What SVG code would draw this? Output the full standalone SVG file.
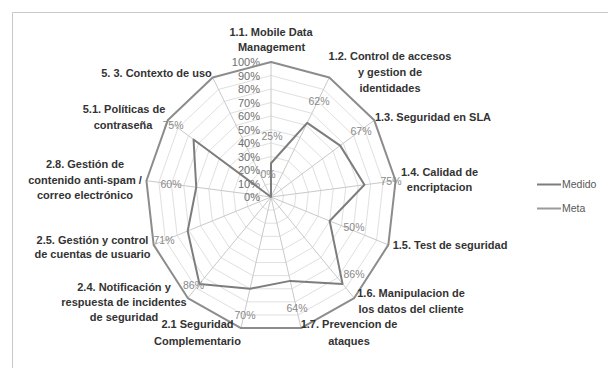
<svg xmlns="http://www.w3.org/2000/svg" width="608" height="374" viewBox="0 0 608 374">
<style>
.bg{fill:#ffffff}
.frame{fill:none;stroke:#c8c8c8;stroke-width:1}
.ring{fill:none;stroke:#e0e0e0;stroke-width:1}
.spoke{fill:none;stroke:#c9c9c9;stroke-width:1}
.medido{fill:none;stroke:#7d7d7d;stroke-width:2;stroke-linejoin:round}
.meta{fill:none;stroke:#8c8c8c;stroke-width:2;stroke-linejoin:round}
.cat{font-family:"Liberation Sans",Arial,sans-serif;font-size:11px;font-weight:bold;fill:#333333;text-anchor:middle}
.ax{font-family:"Liberation Sans",Arial,sans-serif;font-size:11px;fill:#6e6e6e;text-anchor:end}
.dl{font-family:"Liberation Sans",Arial,sans-serif;font-size:10.5px;fill:#8a8a8a;text-anchor:middle}
.lg{font-family:"Liberation Sans",Arial,sans-serif;font-size:10.5px;fill:#595959}
</style>
<rect class="bg" x="0" y="0" width="608" height="374"/>
<path class="frame" d="M12.5,368 V12.5 H608"/>

<g id="grid">
<g transform="translate(271 197)">
<polygon class="ring" vector-effect="non-scaling-stroke" transform="scale(12.55 13.5)" points="0,-1 0.46472,-0.88546 0.82298,-0.56806 0.99271,-0.12054 0.93502,0.35460 0.66312,0.74851 0.23932,0.97094 -0.23932,0.97094 -0.66312,0.74851 -0.93502,0.35460 -0.99271,-0.12054 -0.82298,-0.56806 -0.46472,-0.88546"/>
<polygon class="ring" vector-effect="non-scaling-stroke" transform="scale(25.1 27)" points="0,-1 0.46472,-0.88546 0.82298,-0.56806 0.99271,-0.12054 0.93502,0.35460 0.66312,0.74851 0.23932,0.97094 -0.23932,0.97094 -0.66312,0.74851 -0.93502,0.35460 -0.99271,-0.12054 -0.82298,-0.56806 -0.46472,-0.88546"/>
<polygon class="ring" vector-effect="non-scaling-stroke" transform="scale(37.65 40.5)" points="0,-1 0.46472,-0.88546 0.82298,-0.56806 0.99271,-0.12054 0.93502,0.35460 0.66312,0.74851 0.23932,0.97094 -0.23932,0.97094 -0.66312,0.74851 -0.93502,0.35460 -0.99271,-0.12054 -0.82298,-0.56806 -0.46472,-0.88546"/>
<polygon class="ring" vector-effect="non-scaling-stroke" transform="scale(50.2 54)" points="0,-1 0.46472,-0.88546 0.82298,-0.56806 0.99271,-0.12054 0.93502,0.35460 0.66312,0.74851 0.23932,0.97094 -0.23932,0.97094 -0.66312,0.74851 -0.93502,0.35460 -0.99271,-0.12054 -0.82298,-0.56806 -0.46472,-0.88546"/>
<polygon class="ring" vector-effect="non-scaling-stroke" transform="scale(62.75 67.5)" points="0,-1 0.46472,-0.88546 0.82298,-0.56806 0.99271,-0.12054 0.93502,0.35460 0.66312,0.74851 0.23932,0.97094 -0.23932,0.97094 -0.66312,0.74851 -0.93502,0.35460 -0.99271,-0.12054 -0.82298,-0.56806 -0.46472,-0.88546"/>
<polygon class="ring" vector-effect="non-scaling-stroke" transform="scale(75.3 81)" points="0,-1 0.46472,-0.88546 0.82298,-0.56806 0.99271,-0.12054 0.93502,0.35460 0.66312,0.74851 0.23932,0.97094 -0.23932,0.97094 -0.66312,0.74851 -0.93502,0.35460 -0.99271,-0.12054 -0.82298,-0.56806 -0.46472,-0.88546"/>
<polygon class="ring" vector-effect="non-scaling-stroke" transform="scale(87.85 94.5)" points="0,-1 0.46472,-0.88546 0.82298,-0.56806 0.99271,-0.12054 0.93502,0.35460 0.66312,0.74851 0.23932,0.97094 -0.23932,0.97094 -0.66312,0.74851 -0.93502,0.35460 -0.99271,-0.12054 -0.82298,-0.56806 -0.46472,-0.88546"/>
<polygon class="ring" vector-effect="non-scaling-stroke" transform="scale(100.4 108)" points="0,-1 0.46472,-0.88546 0.82298,-0.56806 0.99271,-0.12054 0.93502,0.35460 0.66312,0.74851 0.23932,0.97094 -0.23932,0.97094 -0.66312,0.74851 -0.93502,0.35460 -0.99271,-0.12054 -0.82298,-0.56806 -0.46472,-0.88546"/>
<polygon class="ring" vector-effect="non-scaling-stroke" transform="scale(112.95 121.5)" points="0,-1 0.46472,-0.88546 0.82298,-0.56806 0.99271,-0.12054 0.93502,0.35460 0.66312,0.74851 0.23932,0.97094 -0.23932,0.97094 -0.66312,0.74851 -0.93502,0.35460 -0.99271,-0.12054 -0.82298,-0.56806 -0.46472,-0.88546"/>
</g>
<path class="spoke" d="M271,197 L271,62 M271,197 L329.32,77.46 M271,197 L374.28,120.31 M271,197 L395.58,180.73 M271,197 L388.34,244.87 M271,197 L354.22,298.05 M271,197 L301.03,328.08 M271,197 L240.97,328.08 M271,197 L187.78,298.05 M271,197 L153.66,244.87 M271,197 L146.42,180.73 M271,197 L167.72,120.31 M271,197 L212.68,77.46"/>
</g>

<g id="axis-labels">
<text class="ax" x="260" y="201">0%</text>
<text class="ax" x="260" y="187.5">10%</text>
<text class="ax" x="260" y="174">20%</text>
<text class="ax" x="260" y="160.5">30%</text>
<text class="ax" x="260" y="147">40%</text>
<text class="ax" x="260" y="133.5">50%</text>
<text class="ax" x="260" y="120">60%</text>
<text class="ax" x="260" y="106.5">70%</text>
<text class="ax" x="260" y="93">80%</text>
<text class="ax" x="260" y="79.5">90%</text>
<text class="ax" x="260" y="66">100%</text>
</g>

<g id="series">
<polygon id="meta" class="meta" points="271,62 329.32,77.46 374.28,120.31 395.58,180.73 388.34,244.87 354.22,298.05 301.03,328.08 240.97,328.08 187.78,298.05 153.66,244.87 146.42,180.73 167.72,120.31 212.68,77.46"/>
<polygon id="medido" class="medido" points="271,163.25 307.16,122.89 340.2,145.62 364.44,184.8 329.67,220.94 342.57,283.9 290.22,280.89 249.98,288.76 199.43,283.9 187.69,230.99 196.25,187.24 193.54,139.48 271,197"/>
</g>

<g id="data-labels">
<text class="dl" x="272" y="140">25%</text>
<text class="dl" x="319" y="104.5">62%</text>
<text class="dl" x="361" y="135">67%</text>
<text class="dl" x="391" y="184.5">75%</text>
<text class="dl" x="354" y="231">50%</text>
<text class="dl" x="354" y="278">86%</text>
<text class="dl" x="297" y="311.5">64%</text>
<text class="dl" x="245" y="319">70%</text>
<text class="dl" x="193.5" y="289">86%</text>
<text class="dl" x="164" y="244">71%</text>
<text class="dl" x="171" y="188">60%</text>
<text class="dl" x="173" y="129">75%</text>
<text class="dl" x="268" y="178">0%</text>
</g>

<g id="cat-1-1"><text class="cat" x="271" y="36">1.1. Mobile Data</text><text class="cat" x="271.5" y="51">Management</text></g>
<g id="cat-1-2"><text class="cat" x="390" y="60">1.2. Control de accesos</text><text class="cat" x="390" y="76">y gestion de</text><text class="cat" x="390" y="92">identidades</text></g>
<g id="cat-1-3"><text class="cat" x="433" y="121">1.3. Seguridad en SLA</text></g>
<g id="cat-1-4"><text class="cat" x="439.5" y="175.5">1.4. Calidad de</text><text class="cat" x="439.5" y="190.5">encriptacion</text></g>
<g id="cat-1-5"><text class="cat" x="450" y="249">1.5. Test de seguridad</text></g>
<g id="cat-1-6"><text class="cat" x="411" y="297">1.6. Manipulacion de</text><text class="cat" x="411" y="313">los datos del cliente</text></g>
<g id="cat-1-7"><text class="cat" x="349" y="328">1.7. Prevencion de</text><text class="cat" x="349" y="344.5">ataques</text></g>
<g id="cat-2-1"><text class="cat" x="197.5" y="328">2.1 Seguridad</text><text class="cat" x="197.5" y="344.5">Complementario</text></g>
<g id="cat-2-4"><text class="cat" x="124" y="291">2.4. Notificación y</text><text class="cat" x="124" y="305.5">respuesta de incidentes</text><text class="cat" x="124" y="320.5">de seguridad</text></g>
<g id="cat-2-5"><text class="cat" x="92.5" y="244">2.5. Gestión y control</text><text class="cat" x="92.5" y="258">de cuentas de usuario</text></g>
<g id="cat-2-8"><text class="cat" x="85" y="168">2.8. Gestión de</text><text class="cat" x="85" y="184">contenido anti-spam /</text><text class="cat" x="85" y="199">correo electrónico</text></g>
<g id="cat-5-1"><text class="cat" x="124" y="113">5.1. Políticas de</text><text class="cat" x="123" y="129">contraseña</text></g>
<g id="cat-5-3"><text class="cat" x="156.5" y="76.5">5. 3. Contexto de uso</text></g>

<g id="legend">
<line x1="537" y1="184.5" x2="561" y2="184.5" stroke="#7d7d7d" stroke-width="2"/>
<text class="lg" x="562" y="188">Medido</text>
<line x1="537" y1="208.5" x2="561" y2="208.5" stroke="#9a9a9a" stroke-width="2"/>
<text class="lg" x="562" y="212">Meta</text>
</g>
</svg>
